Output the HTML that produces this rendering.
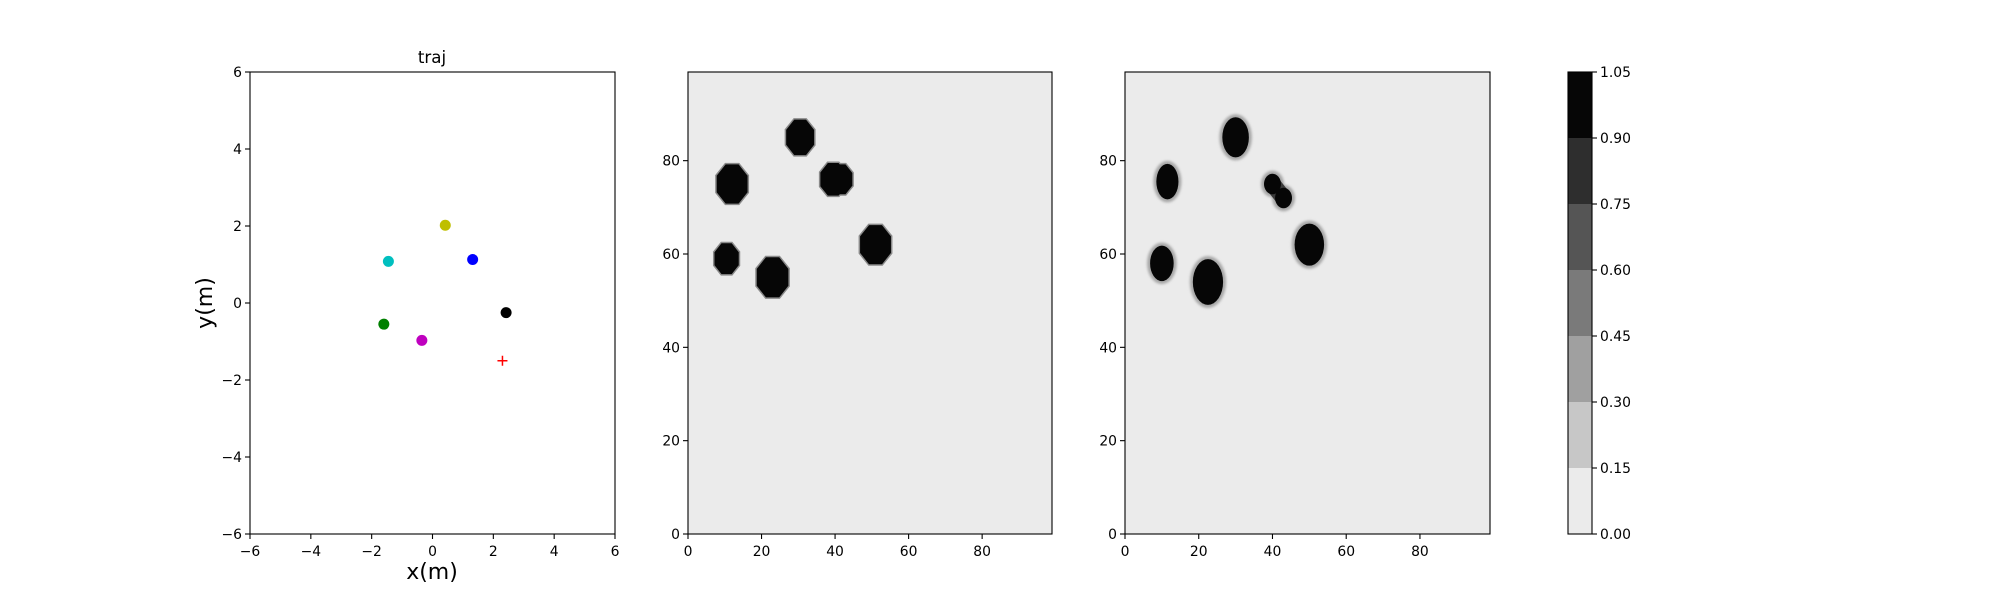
<!DOCTYPE html>
<html><head><meta charset="utf-8"><style>
body{margin:0;background:#fff}
svg{display:block;font-family:"DejaVu Sans","Liberation Sans",sans-serif}
</style></head><body>
<svg id="fig" width="2000" height="600" viewBox="0 0 2000 600">
<defs><filter id="blur" x="-50%" y="-50%" width="200%" height="200%"><feGaussianBlur stdDeviation="1.2"/></filter></defs>
</svg>
<script>
const trajX=[-1.45,0.42,1.32,2.42,-1.6,-0.35];
const trajY=[1.08,2.02,1.13,-0.25,-0.55,-0.97];
const trajColors=["#00bfbf","#bfbf00","#0000ff","#000000","#008000","#bf00bf"];
const goalX=[2.3];const goalY=[-1.5];
const trajTicks=[-6,-4,-2,0,2,4,6];
const mapTicks=[0,20,40,60,80];
const map1X=[12,30.5,39.5,41.5,51,10.5,23];
const map1Y=[75,85,76,76,62,59,55];
const map1R=[4.2,3.8,3.5,3.2,4.2,3.3,4.3];
const map2X=[11.5,30,40,43,50,10,22.5];
const map2Y=[75.5,85,75,72,62,58,54];
const map2RX=[3.0,3.6,2.3,2.3,4.0,3.2,4.1];
const map2RY=[3.8,4.3,2.2,2.2,4.5,3.8,4.9];
const map2Link=[[2,3]];
const cbLevels=[0,0.15,0.3,0.45,0.6,0.75,0.9,1.05];
const cbLabels=["0.00","0.15","0.30","0.45","0.60","0.75","0.90","1.05"];
const cbColors=["#ebebeb","#c7c7c7","#a0a0a0","#7a7a7a","#555555","#2e2e2e","#060606"];

const NS="http://www.w3.org/2000/svg";
const svg=document.getElementById('fig');
function mk(tag,attrs,parent){const e=document.createElementNS(NS,tag);for(const k in attrs)e.setAttribute(k,attrs[k]);(parent||svg).appendChild(e);return e;}
function txt(s,x,y,size,anchor,parent,name){const t=mk('text',{x:x,y:y,'font-size':size,'text-anchor':anchor,fill:'#000'},parent);t.textContent=s;


return t;}
const T=72,B=534;
function axes(L,R,xmin,xmax,ymin,ymax,xt,yt,bg,name){
  const g=mk('g',{});
  
  
  mk('rect',{x:L,y:T,width:R-L,height:B-T,fill:bg},g);
  const sx=v=>L+(v-xmin)/(xmax-xmin)*(R-L);
  const sy=v=>B-(v-ymin)/(ymax-ymin)*(B-T);
  xt.forEach(v=>{const x=sx(v);mk('line',{x1:x,x2:x,y1:B,y2:B+5,stroke:'#000','stroke-width':1.1},g);
    txt(String(v).replace('-','\u2212'),x,B+22,13.9,'middle',g,'x-tick-label');});
  yt.forEach(v=>{const y=sy(v);mk('line',{x1:L-5,x2:L,y1:y,y2:y,stroke:'#000','stroke-width':1.1},g);
    txt(String(v).replace('-','\u2212'),L-8,y+5,13.9,'end',g,'y-tick-label');});
  return {g,sx,sy,L,R,kx:(R-L)/(xmax-xmin),ky:(B-T)/(ymax-ymin)};
}
function frame(a){mk('rect',{x:a.L,y:T,width:a.R-a.L,height:B-T,fill:'none',stroke:'#000','stroke-width':1.1},a.g);}
function octagon(cx,cy,rx,ry){const c=0.42;return `M${cx-rx*c},${cy-ry}L${cx+rx*c},${cy-ry}L${cx+rx},${cy-ry*c}L${cx+rx},${cy+ry*c}L${cx+rx*c},${cy+ry}L${cx-rx*c},${cy+ry}L${cx-rx},${cy+ry*c}L${cx-rx},${cy-ry*c}Z`;}

// Panel 1
const a1=axes(250,615,-6,6,-6,6,trajTicks,trajTicks,'#fff','traj-axes');
trajX.forEach((v,i)=>{const c=mk('circle',{cx:a1.sx(v),cy:a1.sy(trajY[i]),r:5.5,fill:trajColors[i]},a1.g);

});
goalX.forEach((v,i)=>{const x=a1.sx(v),y=a1.sy(goalY[i]);const p=mk('path',{d:`M${x-5},${y}H${x+5}M${x},${y-5}V${y+5}`,stroke:'#ff0000','stroke-width':1.5},a1.g);

});
frame(a1);
txt('traj',432,63,16.7,'middle',svg,'traj-title');
txt('x(m)',432,579,22,'middle',svg,'x-axis-title');
const yl=txt('y(m)',0,0,22,'middle',svg,'y-axis-title');yl.setAttribute('transform','translate(212,303) rotate(-90)');

// Panel 2
const a2=axes(688,1052,0,99,0,99,mapTicks,mapTicks,'#ebebeb','ground-truth-map');
map1X.forEach((v,i)=>{const cx=a2.sx(v),cy=a2.sy(map1Y[i]);const rx=map1R[i]*a2.kx,ry=map1R[i]*a2.ky;
const e=mk('path',{d:octagon(cx,cy,rx+1.5,ry+1.5),fill:'#8a8a8a'},a2.g);

});
map1X.forEach((v,i)=>{const cx=a2.sx(v),cy=a2.sy(map1Y[i]);const rx=map1R[i]*a2.kx,ry=map1R[i]*a2.ky;
const f=mk('path',{d:octagon(cx,cy,rx,ry),fill:'#060606'},a2.g);

});
frame(a2);

// Panel 3
const a3=axes(1125,1490,0,99,0,99,mapTicks,mapTicks,'#ebebeb','predicted-map');
map2X.forEach((v,i)=>{const cx=a3.sx(v),cy=a3.sy(map2Y[i]);const rx=map2RX[i]*a3.kx,ry=map2RY[i]*a3.ky;
const e=mk('ellipse',{cx:cx,cy:cy,rx:rx+3,ry:ry+3,fill:'#a8a8a8',filter:'url(#blur)'},a3.g);

});
map2Link.forEach(([i,j])=>{const l=mk('line',{x1:a3.sx(map2X[i]),y1:a3.sy(map2Y[i]),x2:a3.sx(map2X[j]),y2:a3.sy(map2Y[j]),stroke:'#3a3a3a','stroke-width':map2RY[i]*a3.ky*1.6,'stroke-linecap':'round'},a3.g);

});
map2X.forEach((v,i)=>{const cx=a3.sx(v),cy=a3.sy(map2Y[i]);const rx=map2RX[i]*a3.kx,ry=map2RY[i]*a3.ky;
const f=mk('ellipse',{cx:cx,cy:cy,rx:rx,ry:ry,fill:'#060606'},a3.g);

});
frame(a3);

// Colorbar
const cg=mk('g',{});


const cL=1568,cR=1592,cmin=cbLevels[0],cmax=cbLevels[cbLevels.length-1];
const cy=v=>B-(v-cmin)/(cmax-cmin)*(B-T);
cbColors.forEach((c,i)=>{const r=mk('rect',{x:cL,y:cy(cbLevels[i+1]),width:cR-cL,height:cy(cbLevels[i])-cy(cbLevels[i+1]),fill:c},cg);

});
mk('rect',{x:cL,y:T,width:cR-cL,height:B-T,fill:'none',stroke:'#000','stroke-width':1.1},cg);
cbLevels.forEach((v,i)=>{const y=cy(v);mk('line',{x1:cR,x2:cR+5,y1:y,y2:y,stroke:'#000','stroke-width':1.1},cg);
txt(cbLabels[i],cR+8,y+5,13.9,'start',cg,'colorbar-tick-label');});
</script>
</body></html>
